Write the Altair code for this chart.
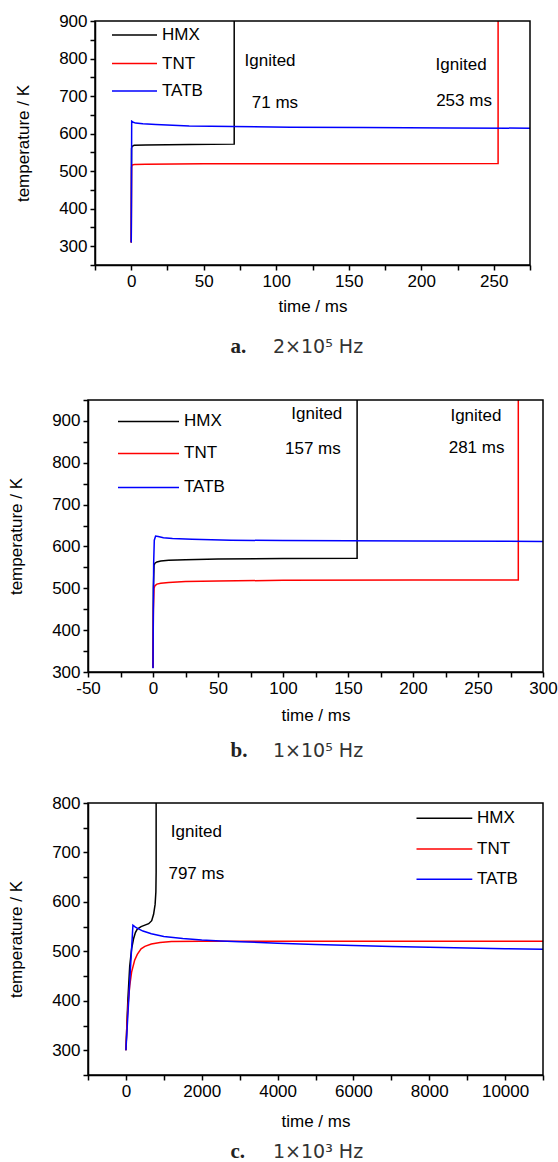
import altair as alt
import pandas as pd

FONT = "Liberation Sans"
NAMES = ["HMX", "TNT", "TATB"]
COLORS = {"HMX": "#000000", "TNT": "#ff0000", "TATB": "#0000ff"}

# ---------------- a. 2x10^5 Hz ----------------
a_hmx_t = [0, 0.2, 0.5, 2, 10, 40, 71, 71]
a_hmx_T = [310, 560, 566, 569, 570, 571, 572, 1000]
a_tnt_t = [0, 0.2, 0.5, 2, 10, 50, 150, 253, 253]
a_tnt_T = [310, 510, 516, 517.5, 518.5, 519.5, 520, 520.5, 1000]
a_tatb_t = [0, 0.3, 1, 3, 8, 17, 40, 70, 110, 160, 220, 275]
a_tatb_T = [310, 633, 631, 628, 626, 624.5, 620.5, 619, 617, 616, 615, 614.5]

# ---------------- b. 1x10^5 Hz ----------------
b_hmx_t = [0, 0.3, 0.8, 1.5, 3, 6, 12, 25, 50, 100, 157, 157]
b_hmx_T = [310, 500, 555, 560, 563, 565, 567, 568.5, 570, 571, 572, 1000]
b_tnt_t = [0, 0.3, 0.8, 1.5, 3, 6, 12, 25, 50, 100, 200, 281, 281]
b_tnt_T = [310, 450, 500, 506, 510, 512, 514, 516, 517.5, 519, 520, 520, 1000]
b_tatb_t = [0, 0.5, 1, 2, 4, 8, 15, 30, 60, 100, 200, 300]
b_tatb_T = [309, 560, 615, 625, 624, 621, 619, 617, 615, 614, 613, 612]

# ---------------- c. 1x10^3 Hz ----------------
c_hmx_t = [0, 50, 100, 150, 200, 250, 300, 400, 500, 600, 680, 730, 770, 790, 797, 797]
c_hmx_T = [300, 400, 470, 505, 525, 538, 545, 550, 553, 556, 562, 575, 595, 620, 660, 900]
c_tnt_t = [0, 25, 55, 100, 150, 230, 300, 400, 500, 670, 900, 1200, 2000, 5000, 11000]
c_tnt_T = [300, 350, 390, 430, 458, 482, 494, 505, 510, 515, 518, 520, 520.5, 520.5, 520.5]
c_tatb_t = [0, 60, 120, 185, 250, 320, 450, 670, 1000, 1500, 2000, 2500, 3000, 4000,
            5000, 6000, 7000, 8000, 9000, 10000, 11000]
c_tatb_T = [300, 383, 466, 553, 549, 546, 541, 535.5, 530, 526, 523, 521, 519.5, 516.5,
            514, 512, 510, 508.5, 507, 505.5, 504.5]

# Annotations in data coordinates (time, temperature)
a_notes = [("Ignited", 95.7, 792.7), ("71 ms", 99.1, 682.0),
           ("Ignited", 227.5, 783.0), ("253 ms", 229.5, 687.5)]
b_notes = [("Ignited", 126.0, 916.7), ("157 ms", 123.0, 834.0),
           ("Ignited", 248.4, 912.0), ("281 ms", 248.9, 836.0)]
c_notes = [("Ignited", 1857.0, 740.6), ("797 ms", 1857.0, 656.7)]


def frame(ts, Ts):
    return pd.DataFrame({"t": ts, "T": Ts, "i": range(len(ts))})


def panel(series, notes, xdom, xstep, xlab, ydom, ystep, ylab,
          view_w, view_h, box, legend, caption_tag, caption_text, caption_y, xtitle_pad):
    bx0, bx1, bh = box
    xticks = list(range(xdom[0], xdom[1] + 1, xstep))
    yticks = list(range(ydom[0], ydom[1] + 1, ystep))
    xaxis = alt.Axis(
        values=xticks,
        labelExpr=f"datum.value % {xlab} === 0 ? '' + datum.value : ''",
        title="time / ms", tickSize=5, labelPadding=3, titlePadding=xtitle_pad,
        offset=-(view_h - bh), labelFlush=False,
    )
    yaxis = alt.Axis(
        values=yticks,
        labelExpr=f"datum.value % {ylab} === 0 ? '' + datum.value : ''",
        title="temperature / K", tickSize=5, labelPadding=3, titlePadding=26,
        offset=-bx0, labelFlush=False,
    )
    xs = alt.Scale(domain=xdom, range=[bx0, bx1], nice=False, zero=False)
    ys = alt.Scale(domain=ydom, range=[bh, 0], nice=False, zero=False)

    def xy():
        return dict(x=alt.X("t:Q", scale=xs, axis=xaxis),
                    y=alt.Y("T:Q", scale=ys, axis=yaxis))

    layers = []
    for name in NAMES:
        ts, Ts = series[name]
        layers.append(
            alt.Chart(frame(ts, Ts)).mark_line(clip=True, strokeWidth=1.5, color=COLORS[name])
            .encode(order="i:Q", **xy())
        )

    one = pd.DataFrame({"k": [0]})
    # plot frame
    layers.append(
        alt.Chart(one).mark_rect(fillOpacity=0, stroke="black", strokeWidth=1.5).encode(
            x=alt.value(bx0), x2=alt.value(bx1), y=alt.value(0), y2=alt.value(bh))
    )

    # legend
    lx0, lx1, ltx, lys = legend
    for name, ly in zip(NAMES, lys):
        layers.append(
            alt.Chart(one).mark_rule(color=COLORS[name], strokeWidth=1.5).encode(
                x=alt.value(lx0), x2=alt.value(lx1), y=alt.value(ly))
        )
        layers.append(
            alt.Chart(one).mark_text(text=name, font=FONT, fontSize=17, align="left",
                                     baseline="middle", color="black").encode(
                x=alt.value(ltx), y=alt.value(ly))
        )

    # ignition annotations
    nd = pd.DataFrame(notes, columns=["label", "t", "T"])
    layers.append(
        alt.Chart(nd).mark_text(font=FONT, fontSize=17, align="center", baseline="middle",
                                color="black").encode(text="label:N", **xy())
    )

    # caption below the panel
    layers.append(
        alt.Chart(one).mark_text(text=caption_tag, font="Liberation Serif", fontSize=21,
                                 fontWeight="bold", align="left", baseline="middle",
                                 color="#222222").encode(
            x=alt.value(142.5), y=alt.value(caption_y))
    )
    layers.append(
        alt.Chart(one).mark_text(text=caption_text, font="DejaVu Sans", fontSize=19,
                                 align="left", baseline="middle", color="#333333").encode(
            x=alt.value(185), y=alt.value(caption_y))
    )
    return alt.layer(*layers).properties(width=view_w, height=view_h)


chart_a = panel(
    {"HMX": (a_hmx_t, a_hmx_T), "TNT": (a_tnt_t, a_tnt_T), "TATB": (a_tatb_t, a_tatb_T)},
    a_notes, [-25, 275], 25, 50, [250, 900], 50, 100,
    455, 248, (7, 442, 244), (24, 69, 74, [14, 42.6, 70]),
    "a.", "2\u00d710\u2075 Hz", 326, 9,
)
chart_b = panel(
    {"HMX": (b_hmx_t, b_hmx_T), "TNT": (b_tnt_t, b_tnt_T), "TATB": (b_tatb_t, b_tatb_T)},
    b_notes, [-50, 300], 25, 50, [300, 950], 50, 100,
    455, 272, (0, 455, 272), (30, 91, 96, [21.4, 53.4, 87.4]),
    "b.", "1\u00d710\u2075 Hz", 350.7, 11,
)
chart_c = panel(
    {"HMX": (c_hmx_t, c_hmx_T), "TNT": (c_tnt_t, c_tnt_T), "TATB": (c_tatb_t, c_tatb_T)},
    c_notes, [-1000, 11000], 1000, 2000, [250, 800], 50, 100,
    455, 272, (0, 455, 272), (328.5, 384.3, 389, [15.3, 46, 76.3]),
    "c.", "1\u00d710\u00b3 Hz", 349.4, 14,
)

chart = (
    alt.vconcat(chart_a, chart_b, chart_c, spacing=131, bounds="flush")
    .properties(padding={"left": 7, "top": 12, "right": 0, "bottom": 0})
    .configure_view(stroke=None)
    .configure_axis(
        labelFont=FONT, titleFont=FONT, labelFontSize=17, titleFontSize=17,
        titleFontWeight="normal", labelColor="black", titleColor="black",
        domainColor="black", tickColor="black", domainWidth=1.5, tickWidth=1.5, grid=False,
    )
)

chart.save("out.html", embed_options={"renderer": "svg", "actions": False})
